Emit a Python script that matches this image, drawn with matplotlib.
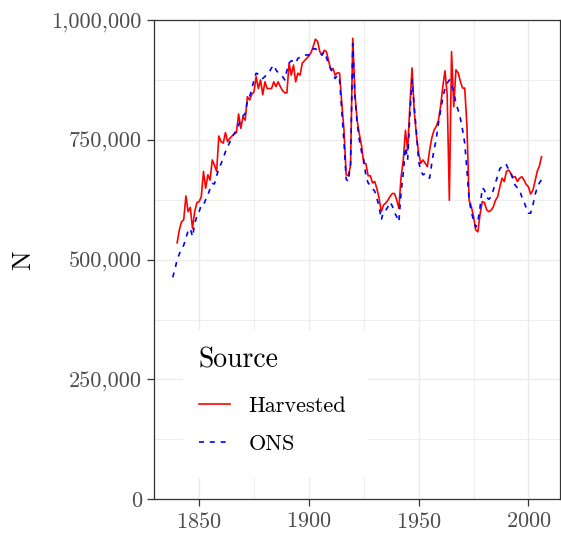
import numpy as np
import matplotlib
matplotlib.use("Agg")
import matplotlib.pyplot as plt
from matplotlib.patches import Rectangle
from matplotlib.ticker import FuncFormatter, MultipleLocator

plt.rcParams['font.family'] = 'cmr10'
plt.rcParams['mathtext.fontset'] = 'cm'
plt.rcParams['axes.formatter.use_mathtext'] = True
plt.rcParams['axes.unicode_minus'] = False

# Harvested series, 1840-2006 (thousands)
harv_years = np.arange(1840, 2007)
harv_k = [
    535, 562, 579, 583, 633, 600, 609, 565, 600, 619,            # 1840s
    621, 631, 684, 649, 677, 666, 708, 697, 684, 758,            # 1850s
    746, 743, 765, 746, 753, 758, 762, 765, 804, 774,            # 1860s
    798, 791, 840, 833, 845, 850, 882, 857, 875, 844,            # 1870s
    871, 857, 857, 857, 871, 861, 871, 861, 853, 848,            # 1880s
    848, 910, 885, 906, 871, 889, 885, 910, 915, 920,            # 1890s
    925, 932, 945, 960, 955, 934, 927, 937, 934, 915,            # 1900s
    896, 899, 885, 890, 889, 826, 770, 677, 675, 697,            # 1910s
    962, 845, 790, 762, 738, 701, 700, 675, 675, 660,            # 1920s
    663, 648, 628, 600, 614, 618, 624, 632, 638, 638,            # 1930s
    625, 607, 672, 707, 770, 728, 820, 900, 810, 760,            # 1940s
    722, 701, 708, 701, 694, 728, 754, 770, 778, 790,            # 1950s
    820, 860, 894, 845, 624, 934, 819, 896, 890, 872,            # 1960s
    858, 858, 780, 624, 611, 590, 562, 558, 595, 621,            # 1970s
    619, 604, 600, 603, 610, 624, 631, 652, 670, 663,            # 1980s
    684, 687, 680, 672, 673, 663, 670, 673, 666, 657,            # 1990s
    652, 637, 644, 663, 684, 695, 715,                           # 2000s
]

# ONS series, 1838-2006 (thousands)
ons_years = np.arange(1838, 2007)
ons_k = [
    463, 480,                                                    # 1838-39
    500, 512, 522, 530, 545, 560, 565, 548, 575, 590,            # 1840s
    600, 614, 614, 625, 635, 648, 659, 658, 675, 690,            # 1850s
    700, 712, 725, 736, 745, 755, 763, 770, 780, 795,            # 1860s
    800, 805, 830, 840, 855, 875, 889, 887, 885, 878,            # 1870s
    882, 889, 892, 900, 906, 896, 890, 886, 882, 875,            # 1880s
    895, 910, 915, 914, 910, 920, 922, 925, 927, 927,            # 1890s
    927, 930, 940, 940, 937, 930, 927, 934, 922, 908,            # 1900s
    898, 889, 878, 885, 875, 810, 745, 668, 663, 701,            # 1910s
    951, 840, 785, 750, 725, 708, 675, 660, 655, 648,            # 1920s
    643, 628, 610, 583, 600, 603, 610, 620, 612, 598,            # 1930s
    590, 579, 640, 680, 735, 708, 800, 875, 820, 765,            # 1940s
    705, 685, 677, 680, 673, 670, 701, 729, 750, 784,            # 1950s
    810, 837, 857, 868, 875, 864, 850, 826, 812, 795,            # 1960s
    771, 743, 687, 625, 600, 582, 568, 580, 610, 650,            # 1970s
    645, 630, 626, 631, 645, 660, 675, 690, 694, 700,            # 1980s
    698, 688, 680, 668, 655, 650, 645, 631, 621, 608,            # 1990s
    597, 597, 612, 635, 650, 660, 667,                           # 2000s
]

harv = np.array(harv_k) * 1000
ons = np.array(ons_k) * 1000

fig = plt.figure(figsize=(5.61, 5.36), dpi=100)
W, H = 561, 536
ax = fig.add_axes([154.3 / W, 1 - 499.3 / H, (560 - 154.3) / W, (499.3 - 20) / H])

ax.plot(harv_years, harv, color='#FF0000', lw=1.2, label='Harvested', zorder=3)
ax.plot(ons_years, ons, color='#0000FF', lw=1.2, ls=(0, (3, 3.5)), label='ONS', zorder=3)

ax.set_xlim(1829.6, 2014.4)
ax.set_ylim(0, 1000000)
ax.xaxis.set_major_locator(MultipleLocator(50))
ax.xaxis.set_minor_locator(MultipleLocator(25))
ax.yaxis.set_major_locator(MultipleLocator(250000))
ax.yaxis.set_minor_locator(MultipleLocator(125000))
ax.yaxis.set_major_formatter(FuncFormatter(lambda v, p: f"{int(v):,}"))

ax.grid(which='major', color='#EBEBEB', lw=1.0, zorder=0)
ax.grid(which='minor', color='#EBEBEB', lw=0.6, zorder=0)
ax.set_axisbelow(True)
ax.tick_params(which='major', direction='out', length=5, width=0.9, color='#333333',
               labelcolor='#4D4D4D', labelsize=16, pad=4)
ax.tick_params(which='minor', length=0)
for s in ax.spines.values():
    s.set_color('#333333')
    s.set_linewidth(0.9)

ax.set_ylabel('N', fontsize=19, color='black', labelpad=12)

# white legend background, like ggplot's legend box
ax.add_patch(Rectangle((0.0707, 0.0444), 0.456, 0.309, transform=ax.transAxes,
                       facecolor='white', edgecolor='none', zorder=4))

leg = ax.legend(title='Source', loc='upper left', bbox_to_anchor=(0.0707, 0.349),
                fontsize=16, title_fontsize=20, frameon=False,
                handlelength=1.4, handletextpad=0.85, labelspacing=0.8,
                borderpad=0.7, borderaxespad=0, alignment='left')
leg.set_zorder(5)
leg._legend_box.sep += 3.6

fig.savefig('out.png', dpi=100)
